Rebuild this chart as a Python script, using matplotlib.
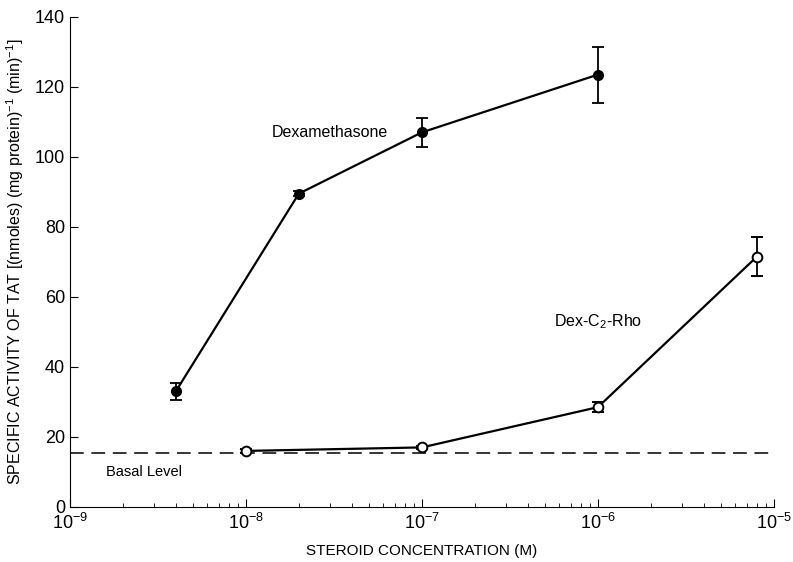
import matplotlib.pyplot as plt

plt.rcParams['font.family'] = ['Liberation Sans', 'DejaVu Sans']
plt.rcParams['mathtext.fontset'] = 'custom'
plt.rcParams['mathtext.rm'] = 'Liberation Sans'

dex_x = [4e-9, 2e-8, 1e-7, 1e-6]
dex_y = [33, 89.5, 107, 123.5]
dex_err = [2.5, 0.8, 4.2, 8]

rho_x = [1e-8, 1e-7, 1e-6, 8e-6]
rho_y = [16, 17, 28.5, 71.5]
rho_err = [0.5, 0.5, 1.5, 5.5]

basal = 15.5

fig = plt.figure(figsize=(7.93, 5.62), dpi=100)
ax = fig.add_axes([0.088, 0.098, 0.888, 0.872])

ax.axhline(basal, color='black', lw=1.1, ls=(0, (9, 5)))

ax.errorbar(dex_x, dex_y, yerr=dex_err, color='black', lw=1.6, marker='o',
            ms=7, mfc='black', capsize=4, elinewidth=1.3, capthick=1.3)
ax.errorbar(rho_x, rho_y, yerr=rho_err, color='black', lw=1.6, marker='o',
            ms=7, mfc='white', mew=1.4, capsize=4, elinewidth=1.3, capthick=1.3)

ax.set_xscale('log')
ax.set_xlim(1e-9, 1e-5)
ax.set_ylim(0, 140)
ax.set_yticks(range(0, 141, 20))

for s in ['top', 'right']:
    ax.spines[s].set_visible(False)
ax.tick_params(direction='in', which='both', labelsize=13)
ax.tick_params(axis='x', pad=4)
ax.tick_params(which='major', length=6)
ax.tick_params(which='minor', length=3)

ax.text(3.0e-8, 107, 'Dexamethasone', fontsize=11.5, ha='center', va='center')
ax.text(1e-6, 53, 'Dex-C$_2$-Rho', fontsize=11.5, ha='center', va='center')
ax.text(1.6e-9, 12, 'Basal Level', fontsize=10.5, ha='left', va='top')

ax.set_xlabel('STEROID CONCENTRATION (M)', fontsize=11)
ax.xaxis.set_label_coords(0.5, -0.075)
ax.set_ylabel('SPECIFIC ACTIVITY OF TAT [(nmoles) (mg protein)$^{-1}$ (min)$^{-1}$]',
              fontsize=11.5, labelpad=6)

fig.savefig('out.png', dpi=100)
